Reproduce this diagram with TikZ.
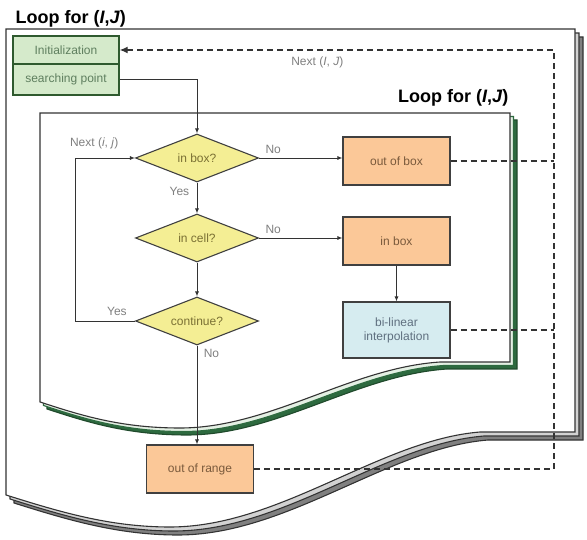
\documentclass[tikz,border=0pt]{standalone}
\usepackage{fontspec}
\setmainfont{Liberation Sans}
\usepackage{xcolor}
\usetikzlibrary{shapes.geometric,arrows.meta}

\definecolor{initfill}{HTML}{D5EACB}
\definecolor{initline}{HTML}{2F5A2F}
\definecolor{inittext}{HTML}{5F7F5F}
\definecolor{stepfill}{HTML}{FBC898}
\definecolor{steptext}{HTML}{7A5A3C}
\definecolor{askfill}{HTML}{F4EE94}
\definecolor{asktext}{HTML}{7A7034}
\definecolor{interpfill}{HTML}{D6ECF0}
\definecolor{interptext}{HTML}{5F6F7F}
\definecolor{greenback}{HTML}{2D6A3F}
\definecolor{greenmid}{HTML}{E4F0E4}
\definecolor{grayback}{HTML}{808080}
\definecolor{graymid}{HTML}{D2D2D2}

\begin{document}
\begin{tikzpicture}[x=1pt,y=-1pt,
  paper/.style={draw=black!80,line width=1.1pt},
  title/.style={font=\fontsize{18}{21}\selectfont\bfseries},
  initbox/.style={rectangle,draw=initline,line width=1.4pt,fill=initfill,text=inittext,minimum width=106pt,minimum height=28pt,inner sep=0pt,font=\fontsize{12}{14}\selectfont},
  stepbox/.style={rectangle,draw=black!75,line width=1.1pt,fill=stepfill,text=steptext,minimum width=107pt,minimum height=48pt,align=center,font=\fontsize{12}{14}\selectfont},
  decision/.style={diamond,aspect=2.5,draw=black!75,line width=1.1pt,fill=askfill,text=asktext,minimum width=123pt,minimum height=48pt,inner sep=0pt,font=\fontsize{12}{14}\selectfont},
  lbl/.style={text=black!50,font=\fontsize{12}{14}\selectfont},
  flow/.style={draw=black!80,line width=0.9pt,-{Latex[length=5pt,width=4pt]}},
  dashline/.style={draw=black!80,line width=1.3pt,dash pattern=on 6pt off 4pt},
  back/.style={dashline,-{Latex[length=8pt,width=7pt]}}]
\useasboundingbox (0,0) rectangle (587,540);

\foreach \dx/\fc in {8/grayback,4/graymid,0/white}
  \draw[paper,fill=\fc,shift={(\dx,\dx)}] (6,29) -- (575,29) -- (575,432) -- (480,432)
    .. controls (380,440) and (280,527) .. (170,527)
    .. controls (110,527) and (60,512) .. (6,495) -- cycle;
\node[title,anchor=west] (outertitle) at (12,19) {Loop for (\textit{I},\textit{J})};

\node[initbox] (init) at (66,50) {Initialization};
\node[initbox,minimum height=31pt] (search) at (66,79.5) {searching point};

\foreach \dx/\fc/\lc in {7/greenback/greenback!70!black,3.5/greenmid/greenback,0/white/black!80}
  \draw[paper,draw=\lc,fill=\fc,shift={(\dx,\dx)}] (40,113) -- (510,113) -- (510,362) -- (440,362)
    .. controls (350,368) and (270,428) .. (180,428)
    .. controls (120,428) and (80,415) .. (40,402) -- cycle;
\node[title,anchor=east] (innertitle) at (512,98) {Loop for (\textit{I},\textit{J})};

\node[decision] (inbox) at (197,158) {in box?};
\node[decision] (incell) at (197,238) {in cell?};
\node[decision] (cont) at (197,321) {continue?};
\node[stepbox] (outbox) at (396.5,161) {out of box};
\node[stepbox] (inbx) at (396.5,241) {in box};
\node[stepbox,fill=interpfill,text=interptext,minimum height=56pt] (interp) at (396.5,330) {bi-linear\\interpolation};
\node[stepbox] (range) at (200,469) {out of range};
\coordinate (retTop) at (554,50);

\draw[flow] (search.east) -| (inbox.north);
\path (inbox.east) edge[flow] node[lbl,above=1pt,pos=.17] {No} (inbox.east -| outbox.west);
\path (inbox.south) edge[flow] node[lbl,left=4pt,pos=.3] {Yes} (incell.north);
\path (incell.east) edge[flow] node[lbl,above=1pt,pos=.17] {No} (incell.east -| inbx.west);
\path (incell.south) edge[flow] (cont.north);
\path (inbx.south) edge[flow] (interp.north);
\path (cont.south) edge[flow] node[lbl,right=3pt,pos=.08] {No} (cont.south |- range.north);
\draw[flow] (cont.west) -- node[lbl,above=2pt,pos=.3] {Yes} ++(-60,0) |- node[lbl,above=5pt,pos=.66] {Next (\textit{i}, \textit{j})} (inbox.west);

\draw[dashline] (outbox.east) -- (outbox.east -| retTop);
\draw[dashline] (interp.east) -- (interp.east -| retTop);
\draw[back] (range.east) -| (retTop) -- node[lbl,below=3pt,pos=.545] {Next (\textit{I}, \textit{J})} (init.east);
\end{tikzpicture}
\end{document}
